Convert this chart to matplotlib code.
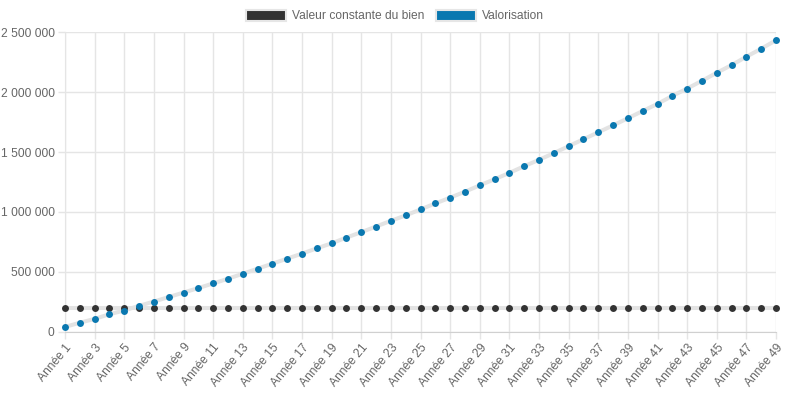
import matplotlib
matplotlib.use("Agg")
import matplotlib.pyplot as plt
from matplotlib.patches import Patch
from matplotlib.ticker import FuncFormatter, MultipleLocator

plt.rcParams['font.family'] = ['Liberation Sans', 'DejaVu Sans']

# data
years = ["Année %d" % i for i in range(1, 50)]
constant_value = [200000] * 49
valuation = [
    40000, 75000, 107000, 146000, 177000, 216000, 252000, 289000, 327000, 364000,
    403000, 442000, 484000, 526000, 568000, 610000, 652000, 696000, 738000, 786000,
    831000, 878000, 926000, 971000, 1021000, 1071000, 1119000, 1169000, 1222000, 1273000,
    1326000, 1382000, 1435000, 1491000, 1549000, 1607000, 1665000, 1723000, 1782000, 1843000,
    1902000, 1969000, 2030000, 2095000, 2162000, 2226000, 2296000, 2363000, 2433000,
]
series_names = ["Valeur constante du bien", "Valorisation"]
series_colors = ["#333333", "#0a78b0"]

text_col = "#666666"
grid_col = "#e5e5e5"
line_col = "#e3e3e3"
fs = 8.64  # 12px

fig = plt.figure(figsize=(7.9, 3.95), dpi=100)
ax = fig.add_axes([65 / 790, 63.3 / 395, 711 / 790, 299.4 / 395])

x = list(range(len(years)))
for vals, col in zip([constant_value, valuation], series_colors):
    ax.plot(x, vals, color=line_col, lw=2.9, zorder=2, solid_capstyle='butt')
    ax.plot(x, vals, ls='none', marker='o', ms=5.0, mfc=col, mew=0, zorder=3,
            clip_on=False)

ax.set_xlim(0, len(years) - 1)
ax.set_ylim(0, 2500000)
ax.yaxis.set_major_locator(MultipleLocator(500000))
ax.yaxis.set_major_formatter(FuncFormatter(lambda v, p: format(int(v), ',').replace(',', ' ')))

ax.set_xticks(x[::2])
ax.set_xticklabels(years[::2], rotation=50, ha='right', rotation_mode='anchor')

ax.grid(True, color=grid_col, lw=1)
ax.set_axisbelow(True)
for s in ax.spines.values():
    s.set_visible(False)
ax.spines['left'].set_visible(True)
ax.spines['left'].set_color(grid_col)
ax.spines['bottom'].set_visible(True)
ax.spines['bottom'].set_color('#d0d0d0')

ax.tick_params(axis='both', colors=grid_col, labelcolor=text_col, labelsize=fs, length=5, width=1)
ax.tick_params(axis='y', pad=2.5)
ax.tick_params(axis='x', pad=2)

handles = [Patch(facecolor=c, edgecolor='#e6e6e6', lw=1.5) for c in series_colors]
fig.legend(handles, series_names, loc='center', bbox_to_anchor=(0.5, 1 - 16 / 395),
           ncol=2, frameon=False, fontsize=fs, labelcolor=text_col,
           handlelength=3.33, handleheight=1.0, handletextpad=0.5, columnspacing=0.9,
           borderaxespad=0, borderpad=0)

fig.savefig("out.png", dpi=100)
